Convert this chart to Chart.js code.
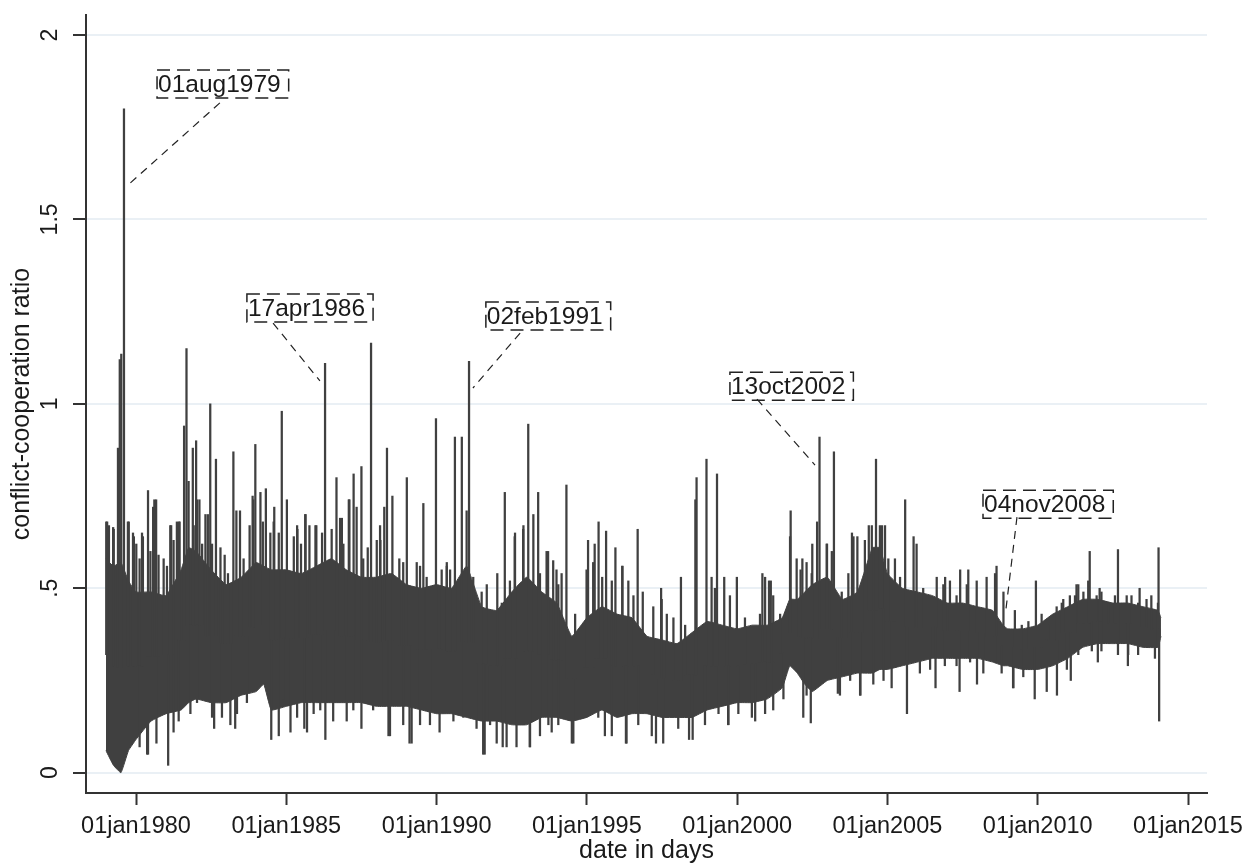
<!DOCTYPE html>
<html>
<head>
<meta charset="utf-8">
<script src="https://cdn.jsdelivr.net/npm/chart.js@4.4.1/dist/chart.umd.min.js"></script>
<style>
   html, body { margin: 0; padding: 0; background: #fff; }
</style>
</head>
<body>
<canvas id="myChart" width="1254" height="864"></canvas>
<script>
// dense band of the daily series (solid part)
const bandYear = [1979.0, 1979.25, 1979.5, 1979.75, 1980.0, 1980.5, 1981.0, 1981.5, 1981.75, 1982.0,
   1982.5, 1983.0, 1983.5, 1984.0, 1984.25, 1984.5, 1985.0, 1985.5, 1986.0, 1986.5,
   1987.0, 1987.5, 1988.0, 1988.5, 1989.0, 1989.5, 1990.0, 1990.5, 1991.0, 1991.5,
   1992.0, 1992.5, 1993.0, 1993.5, 1994.0, 1994.5, 1995.0, 1995.5, 1996.0, 1996.5,
   1997.0, 1997.5, 1998.0, 1998.5, 1999.0, 1999.5, 2000.0, 2000.5, 2001.0, 2001.5,
   2001.75, 2002.0, 2002.25, 2002.5, 2003.0, 2003.5, 2004.0, 2004.5, 2004.75, 2005.0,
   2005.5, 2006.0, 2006.5, 2007.0, 2007.5, 2008.0, 2008.5, 2008.85, 2009.0, 2009.5,
   2010.0, 2010.5, 2011.0, 2011.5, 2012.0, 2012.5, 2013.0, 2013.5, 2014.0, 2014.1];
const bandHi = [0.58, 0.56, 0.57, 0.52, 0.49, 0.49, 0.48, 0.55, 0.61, 0.60,
   0.55, 0.51, 0.53, 0.57, 0.56, 0.55, 0.55, 0.54, 0.56, 0.58,
   0.55, 0.53, 0.53, 0.54, 0.51, 0.50, 0.51, 0.50, 0.56, 0.45,
   0.44, 0.49, 0.53, 0.49, 0.46, 0.37, 0.42, 0.45, 0.43, 0.42,
   0.37, 0.36, 0.35, 0.38, 0.41, 0.40, 0.39, 0.40, 0.40, 0.42,
   0.47, 0.47, 0.49, 0.51, 0.53, 0.47, 0.49, 0.61, 0.61, 0.54,
   0.50, 0.49, 0.48, 0.46, 0.46, 0.45, 0.44, 0.40, 0.39, 0.39,
   0.40, 0.43, 0.45, 0.47, 0.47, 0.46, 0.46, 0.45, 0.44, 0.42];
const bandLo = [0.06, 0.02, 0.00, 0.06, 0.09, 0.14, 0.16, 0.17, 0.19, 0.20,
   0.19, 0.19, 0.21, 0.22, 0.24, 0.17, 0.18, 0.19, 0.19, 0.19,
   0.19, 0.19, 0.18, 0.18, 0.18, 0.17, 0.16, 0.16, 0.15, 0.14,
   0.14, 0.13, 0.13, 0.15, 0.15, 0.14, 0.15, 0.17, 0.15, 0.16,
   0.16, 0.15, 0.15, 0.15, 0.17, 0.18, 0.19, 0.19, 0.20, 0.23,
   0.29, 0.27, 0.24, 0.22, 0.25, 0.26, 0.27, 0.27, 0.28, 0.28,
   0.29, 0.30, 0.31, 0.31, 0.31, 0.31, 0.30, 0.29, 0.29, 0.28,
   0.28, 0.29, 0.31, 0.34, 0.35, 0.35, 0.35, 0.34, 0.34, 0.37];

// tall single days above the band
const peakYear = [1979.01, 1979.1, 1979.24, 1979.4, 1979.46, 1979.51, 1979.6, 1979.73, 1979.93, 1980.23,
   1980.4, 1980.67, 1981.17, 1981.43, 1981.6, 1981.68, 1981.89, 1982.0, 1982.11, 1982.39,
   1982.47, 1982.66, 1983.24, 1983.46, 1983.9, 1983.97, 1984.32, 1984.6, 1984.85, 1985.02,
   1985.37, 1985.64, 1986.0, 1986.29, 1986.67, 1986.85, 1987.08, 1987.24, 1987.5, 1987.82,
   1988.13, 1988.35, 1988.53, 1989.01, 1989.56, 1989.98, 1990.34, 1990.61, 1990.84, 1991.08,
   1992.27, 1992.6, 1992.88, 1993.05, 1993.38, 1993.71, 1993.99, 1994.32, 1995.04, 1995.26,
   1995.39, 1995.64, 1995.95, 1996.18, 1996.69, 1997.47, 1998.13, 1998.61, 1998.65, 1998.98,
   1999.33, 1999.57, 1999.99, 2000.84, 2001.12, 2001.78, 2002.17, 2002.5, 2002.66, 2002.74,
   2002.99, 2003.22, 2003.82, 2004.38, 2004.62, 2004.82, 2005.59, 2005.87, 2006.92, 2007.42,
   2007.69, 2008.58, 2008.63, 2009.94, 2010.85, 2011.29, 2011.73, 2012.06, 2012.67, 2013.39,
   2014.02];
const peakValue = [0.68, 0.67, 0.665, 0.88, 1.12, 1.135, 1.80, 0.68, 0.64, 0.64,
   0.765, 0.74, 0.67, 0.68, 0.94, 1.15, 0.88, 0.90, 0.74, 0.70,
   1.00, 0.85, 0.87, 0.71, 0.74, 0.89, 0.77, 0.72, 0.98, 0.74,
   0.66, 0.70, 0.67, 1.11, 0.80, 0.69, 0.74, 0.81, 0.83, 1.165,
   0.63, 0.88, 0.75, 0.80, 0.73, 0.96, 0.56, 0.91, 0.91, 1.115,
   0.76, 0.64, 0.66, 0.945, 0.76, 0.60, 0.55, 0.78, 0.63, 0.62,
   0.68, 0.655, 0.61, 0.56, 0.66, 0.50, 0.53, 0.74, 0.80, 0.85,
   0.81, 0.53, 0.53, 0.54, 0.52, 0.71, 0.58, 0.62, 0.68, 0.91,
   0.62, 0.87, 0.65, 0.67, 0.85, 0.67, 0.74, 0.64, 0.53, 0.55,
   0.55, 0.54, 0.56, 0.52, 0.47, 0.51, 0.60, 0.50, 0.605, 0.50,
   0.61];

// shorter days along the top edge of the band
const upCombYear = [1979.04, 1979.26, 1979.76, 1979.9, 1980.01, 1980.12, 1980.2, 1980.48, 1980.57, 1980.61,
   1980.75, 1980.92, 1981.03, 1981.14, 1981.25, 1981.36, 1981.45, 1981.75, 1981.92, 1982.03,
   1982.2, 1982.31, 1982.53, 1982.81, 1982.95, 1983.06, 1983.34, 1983.58, 1983.78, 1983.88,
   1984.14, 1984.22, 1984.47, 1984.58, 1984.75, 1985.25, 1985.36, 1985.49, 1985.63, 1985.77,
   1985.97, 1986.19, 1986.51, 1986.79, 1986.9, 1987.1, 1987.34, 1987.56, 1987.71, 1988.01,
   1988.12, 1988.26, 1988.76, 1988.89, 1989.34, 1989.45, 1989.67, 1990.17, 1990.34, 1990.45,
   1991.0, 1991.22, 1991.5, 1991.67, 1992.02, 1992.17, 1992.44, 1992.61, 1992.89, 1993.22,
   1993.44, 1993.66, 1993.88, 1994.05, 1994.16, 1994.61, 1994.99, 1995.21, 1995.51, 1995.83,
   1996.18, 1996.38, 1996.55, 1996.86, 1997.21, 1997.49, 1997.66, 1997.88, 1998.27, 1999.15,
   1999.26, 1999.76, 2000.26, 2000.76, 2000.93, 2001.06, 2001.2, 2001.43, 2001.76, 2001.98,
   2002.11, 2002.31, 2002.48, 2002.98, 2003.15, 2003.48, 2003.7, 2003.87, 2004.0, 2004.25,
   2004.48, 2004.75, 2004.92, 2005.03, 2005.25, 2005.42, 2005.97, 2006.19, 2006.64, 2006.86,
   2007.08, 2007.3, 2007.64, 2007.97, 2008.3, 2008.86, 2009.24, 2009.47, 2009.69, 2010.13,
   2010.35, 2010.63, 2010.8, 2011.07, 2011.24, 2011.35, 2011.52, 2011.68, 2011.96, 2012.12,
   2012.35, 2012.57, 2012.96, 2013.12, 2013.34, 2013.62, 2013.78, 2014.0];
const upCombValue = [0.68, 0.66, 0.68, 0.65, 0.62, 0.58, 0.65, 0.60, 0.72, 0.74,
   0.59, 0.58, 0.56, 0.67, 0.63, 0.68, 0.68, 0.79, 0.67, 0.74,
   0.62, 0.70, 0.62, 0.61, 0.59, 0.54, 0.71, 0.58, 0.67, 0.75,
   0.76, 0.68, 0.65, 0.68, 0.65, 0.64, 0.67, 0.62, 0.70, 0.67,
   0.67, 0.65, 0.66, 0.69, 0.62, 0.74, 0.72, 0.58, 0.61, 0.63,
   0.67, 0.72, 0.58, 0.57, 0.57, 0.56, 0.53, 0.55, 0.57, 0.55,
   0.71, 0.53, 0.49, 0.51, 0.54, 0.46, 0.52, 0.65, 0.67, 0.70,
   0.54, 0.60, 0.575, 0.51, 0.54, 0.43, 0.55, 0.57, 0.53, 0.52,
   0.56, 0.52, 0.48, 0.49, 0.45, 0.47, 0.43, 0.42, 0.40, 0.53,
   0.50, 0.48, 0.42, 0.43, 0.53, 0.52, 0.48, 0.43, 0.64, 0.58,
   0.55, 0.57, 0.54, 0.62, 0.60, 0.49, 0.54, 0.64, 0.64, 0.63,
   0.67, 0.67, 0.67, 0.58, 0.58, 0.53, 0.62, 0.50, 0.53, 0.51,
   0.52, 0.48, 0.51, 0.52, 0.53, 0.49, 0.44, 0.40, 0.41, 0.43,
   0.40, 0.45, 0.46, 0.48, 0.48, 0.51, 0.49, 0.52, 0.48, 0.49,
   0.46, 0.48, 0.48, 0.48, 0.46, 0.47, 0.48, 0.46];

// deep single days below the band
const dipYear = [1980.4, 1981.07, 1982.6, 1983.3, 1984.5, 1985.6, 1986.3, 1987.5, 1988.4, 1989.1,
   1990.1, 1991.6, 1992.2, 1993.1, 1994.5, 1995.6, 1996.3, 1997.3, 1998.4, 1999.7,
   2000.6, 2002.2, 2002.45, 2003.35, 2004.1, 2005.65, 2006.6, 2007.4, 2007.98, 2009.18, 2009.9,
   2010.3, 2010.64, 2011.1, 2012.0, 2013.0, 2014.04];
const dipValue = [0.05, 0.02, 0.12, 0.12, 0.09, 0.12, 0.09, 0.12, 0.10, 0.08,
   0.11, 0.05, 0.07, 0.07, 0.08, 0.10, 0.08, 0.08, 0.09, 0.13,
   0.14, 0.15, 0.135, 0.215, 0.21, 0.16, 0.23, 0.22, 0.24, 0.23, 0.20,
   0.22, 0.21, 0.25, 0.30, 0.29, 0.14];

// shorter days along the bottom edge of the band
const lowCombYear = [1979.04, 1980.12, 1980.37, 1980.68, 1981.25, 1981.42, 1981.81, 1982.03, 1982.53, 1982.86,
   1983.14, 1983.36, 1983.69, 1984.75, 1984.91, 1985.14, 1985.36, 1985.69, 1985.91, 1986.13,
   1986.56, 1987.01, 1987.23, 1987.89, 1988.23, 1988.45, 1988.89, 1989.17, 1989.45, 1989.78,
   1990.11, 1990.56, 1990.89, 1991.33, 1991.55, 1991.78, 1992.0, 1992.33, 1992.66, 1993.11,
   1993.44, 1993.72, 1993.83, 1994.05, 1994.55, 1994.94, 1995.38, 1995.83, 1996.32, 1996.71,
   1997.16, 1997.54, 1998.04, 1998.52, 1998.93, 1999.38, 1999.71, 2000.04, 2000.49, 2000.93,
   2001.2, 2001.54, 2002.31, 2002.76, 2003.42, 2003.76, 2004.09, 2004.53, 2004.87, 2005.14,
   2006.08, 2006.42, 2006.91, 2007.3, 2007.75, 2008.19, 2008.58, 2008.8, 2009.19, 2009.52,
   2010.97, 2011.35, 2011.8, 2012.12, 2012.67, 2013.01, 2013.34, 2013.9];
const lowCombValue = [0.07, 0.07, 0.05, 0.08, 0.11, 0.14, 0.16, 0.19, 0.15, 0.15,
   0.13, 0.16, 0.19, 0.10, 0.20, 0.11, 0.15, 0.11, 0.16, 0.17,
   0.14, 0.14, 0.17, 0.17, 0.19, 0.10, 0.13, 0.08, 0.13, 0.13,
   0.16, 0.14, 0.15, 0.12, 0.05, 0.13, 0.08, 0.07, 0.07, 0.07,
   0.10, 0.13, 0.11, 0.13, 0.08, 0.15, 0.15, 0.10, 0.08, 0.13,
   0.10, 0.08, 0.12, 0.09, 0.13, 0.16, 0.13, 0.16, 0.15, 0.16,
   0.17, 0.20, 0.21, 0.24, 0.21, 0.25, 0.21, 0.24, 0.25, 0.23,
   0.27, 0.28, 0.29, 0.29, 0.30, 0.27, 0.30, 0.27, 0.23, 0.26,
   0.28, 0.32, 0.33, 0.33, 0.32, 0.32, 0.32, 0.31];

// axes
const xTickYears = [1980, 1985, 1990, 1995, 2000, 2005, 2010, 2015];
const xTickLabels = ['01jan1980', '01jan1985', '01jan1990', '01jan1995', '01jan2000', '01jan2005', '01jan2010', '01jan2015'];
const yTickValues = [0, 0.5, 1, 1.5, 2];
const yTickLabels = ['0', '.5', '1', '1.5', '2'];

// labelled days: box corner, leader line start and end (years / ratio)
const notes = [
   { text: '01aug1979', box: [1980.70, 1.905], from: [1982.79, 1.816], to: [1979.73, 1.593] },
   { text: '17apr1986', box: [1983.69, 1.298], from: [1984.56, 1.219], to: [1986.12, 1.062] },
   { text: '02feb1991', box: [1991.64, 1.276], from: [1992.78, 1.192], to: [1991.21, 1.043] },
   { text: '13oct2002', box: [1999.76, 1.086], from: [2000.66, 1.013], to: [2002.59, 0.834] },
   { text: '04nov2008', box: [2008.18, 0.766], from: [2009.31, 0.693], to: [2008.94, 0.441] }
];

const family = '"Liberation Sans", Arial, sans-serif';
const ink = '#404040';

// each single day is drawn as a thin line from the middle of the band out to its value
function bandMid(t) {
   let k = 0;
   bandYear.forEach((b, i) => { if (Math.abs(b - t) < Math.abs(bandYear[k] - t)) k = i; });
   return (bandHi[k] + bandLo[k]) / 2;
}
function spikes(years, values) {
   return years.map((t, i) => ({ x: t, y: [bandMid(t), values[i]] }));
}
const spikeData = spikes(peakYear, peakValue)
   .concat(spikes(upCombYear, upCombValue))
   .concat(spikes(dipYear, dipValue))
   .concat(spikes(lowCombYear, lowCombValue));

const stataPlugin = {
   id: 'stata',
   afterDraw(chart) {
      const ctx = chart.ctx, xs = chart.scales.x, ys = chart.scales.y;
      ctx.save();
      ctx.fillStyle = '#1a1a1a';
      ctx.textBaseline = 'middle';
      // y tick labels, turned like Stata does
      ctx.font = `23px ${family}`;
      ctx.textAlign = 'center';
      yTickValues.forEach((v, i) => {
         ctx.save();
         ctx.translate(51, ys.getPixelForValue(v));
         ctx.rotate(-Math.PI / 2);
         ctx.fillText(yTickLabels[i], 0, 0);
         ctx.restore();
      });
      // boxed date labels with dashed leader lines
      ctx.font = `24.5px ${family}`;
      notes.forEach(n => {
         const bx = xs.getPixelForValue(n.box[0]), by = ys.getPixelForValue(n.box[1]);
         const w = ctx.measureText(n.text).width + 9;
         ctx.setLineDash([13, 7]);
         ctx.lineWidth = 1.5;
         ctx.strokeStyle = '#222';
         ctx.strokeRect(bx, by, w, 28);
         ctx.textAlign = 'left';
         ctx.fillText(n.text, bx + 1, by + 15);
         ctx.setLineDash([8, 6]);
         ctx.lineWidth = 1.2;
         ctx.beginPath();
         ctx.moveTo(xs.getPixelForValue(n.from[0]), ys.getPixelForValue(n.from[1]));
         ctx.lineTo(xs.getPixelForValue(n.to[0]), ys.getPixelForValue(n.to[1]));
         ctx.stroke();
      });
      ctx.restore();
   }
};

const ctx = document.getElementById('myChart').getContext('2d');
new Chart(ctx, {
   type: 'bar',
   data: {
      datasets: [{
         type: 'line',
         data: bandYear.map((t, i) => ({ x: t, y: bandHi[i] })),
         borderColor: ink,
         borderWidth: 1,
         pointRadius: 0,
         tension: 0.1,
         fill: false,
         order: 2
      }, {
         type: 'line',
         data: bandYear.map((t, i) => ({ x: t, y: bandLo[i] })),
         borderColor: ink,
         backgroundColor: ink,
         borderWidth: 1,
         pointRadius: 0,
         tension: 0.1,
         fill: '-1',
         order: 2
      }, {
         type: 'bar',
         data: spikeData,
         backgroundColor: ink,
         borderWidth: 0,
         barThickness: 1.6,
         order: 1
      }]
   },
   options: {
      responsive: false,
      animation: false,
      layout: { padding: { left: 0, top: 15, right: 47, bottom: 0 } },
      plugins: { legend: { display: false }, tooltip: { enabled: false } },
      scales: {
         x: {
            type: 'linear',
            min: 1978.3365,
            max: 2015.632,
            offset: false,
            afterBuildTicks: s => { s.ticks = xTickYears.map(v => ({ value: v })); },
            afterFit: s => { s.height = 71; },
            ticks: {
               autoSkip: false, maxRotation: 0, minRotation: 0, padding: 7,
               color: '#1a1a1a', font: { size: 23.5, family: family },
               callback: v => xTickLabels[xTickYears.indexOf(v)]
            },
            grid: { drawOnChartArea: false, drawTicks: true, tickLength: 12, tickColor: '#333', tickWidth: 2, offset: false },
            border: { display: true, color: '#333', width: 2 },
            title: { display: true, text: 'date in days', color: '#1a1a1a', font: { size: 25, family: family, lineHeight: 1 }, padding: { top: 0, bottom: 0 } }
         },
         y: {
            min: -0.055,
            max: 2.0542,
            afterBuildTicks: s => { s.ticks = yTickValues.map(v => ({ value: v })); },
            afterFit: s => { s.width = 86; },
            ticks: { display: false },
            grid: { color: '#eaf0f5', lineWidth: 2, drawTicks: true, tickLength: 13, tickColor: '#333', tickWidth: 2 },
            border: { display: true, color: '#333', width: 2 },
            title: { display: true, text: 'conflict-cooperation ratio', color: '#1a1a1a', font: { size: 25, family: family, lineHeight: 1 }, padding: { top: 10, bottom: 0 } }
         }
      }
   },
   plugins: [stataPlugin]
});
</script>
</body>
</html>
